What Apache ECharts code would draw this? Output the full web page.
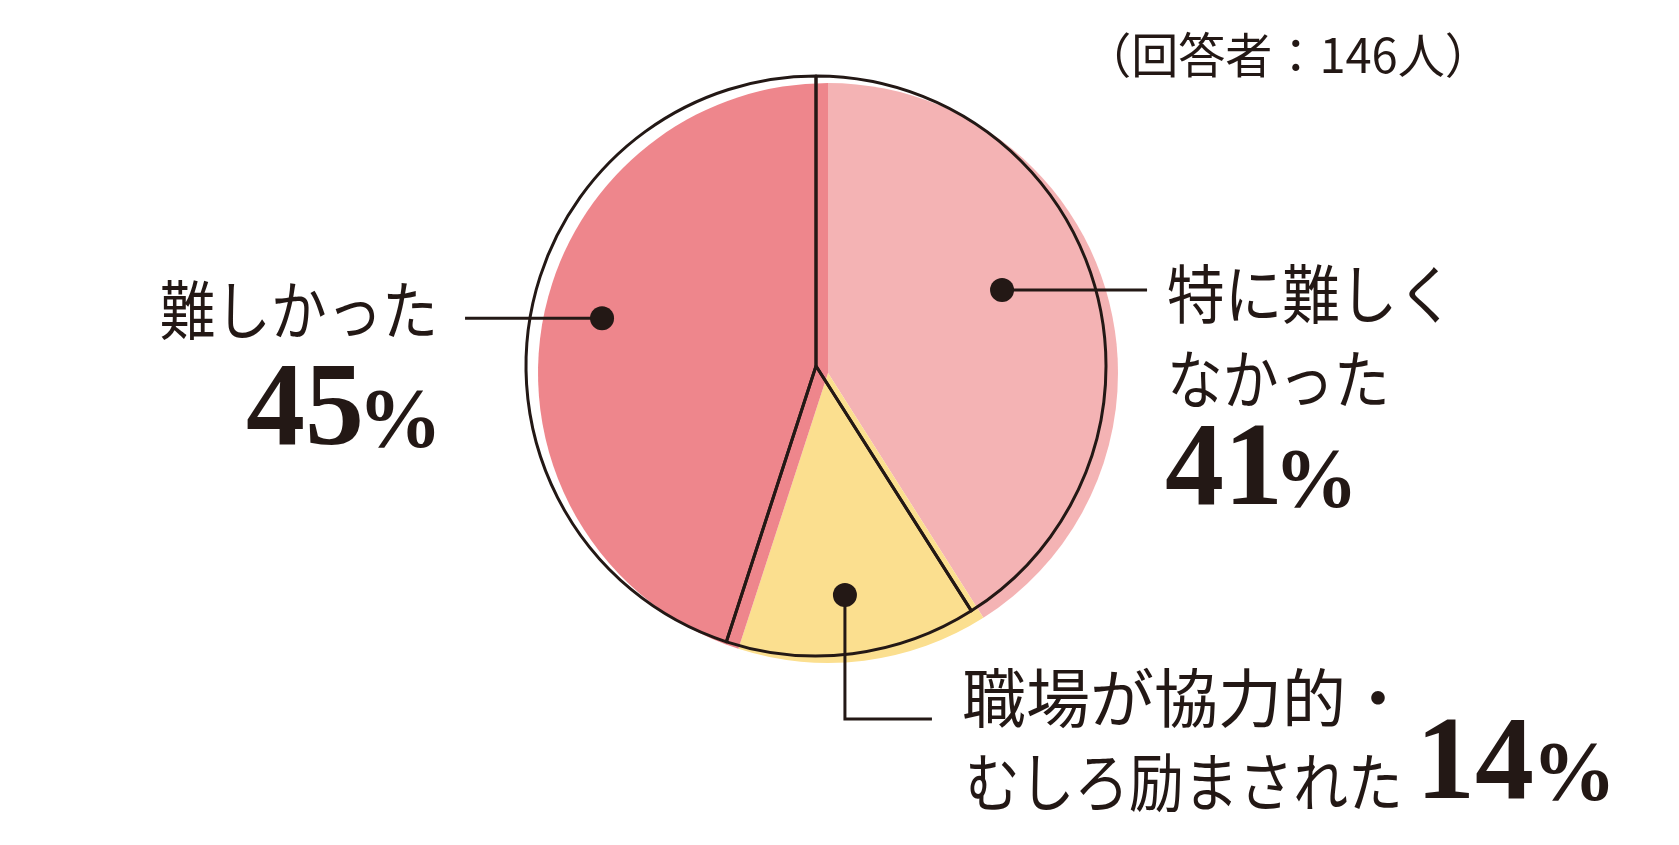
<!DOCTYPE html>
<html>
<head>
<meta charset="utf-8">
<title>職場の反応</title>
<script src="https://cdn.jsdelivr.net/npm/echarts@6/dist/echarts.min.js"></script>
<style>
  html, body { margin: 0; padding: 0; background: #fff; }
  #chart { width: 1679px; height: 845px; }
</style>
</head>
<body>
<div id="chart"></div>
<script>
// data
const categories = ['特に難しくなかった', '職場が協力的・むしろ励まされた', '難しかった']
const shares = [41, 14, 45]
const labelLines = [['特に難しく', 'なかった'], ['職場が協力的・', 'むしろ励まされた'], ['難しかった']]
const respondents = 146

// look
const INK = '#231815'
const sliceColors = ['#F4B3B4', '#FBDF8F', '#EE868C']
const JP_FONT = '"Noto Sans CJK JP", "Noto Sans", sans-serif'
const NUM_FONT = '"Liberation Serif", "DejaVu Serif", serif'

// layout
const OUTLINE_CENTER = [816, 366]
const FILL_CENTER = [828, 373]
const PIE_R = 290
// where the dot sits inside each slice (radius share, small angle shift in %)
const anchorRadius = [0.693, 0.796, 0.756]
const anchorTweak = [-1.67, 0, 1.0]

// offsets from the dot for leader line and texts; third value = horizontal squeeze
const labelLayout = [
  {
    leader: [[0, 0], [145, 0]],
    align: 'left',
    lines: [[165, 4, 0.9], [165, 89, 0.87]],
    num: [163, 183], pct: [272, 195]
  },
  {
    leader: [[0, 0], [0, 124], [87, 124]],
    align: 'left',
    lines: [[117, 103, 1.0], [120, 187, 0.855]],
    num: [571, 172], pct: [687, 183]
  },
  {
    leader: [[0, 0], [-137, 0]],
    align: 'right',
    lines: [[-164, -8, 0.87]],
    num: [-238, 95], pct: [-160, 107]
  }
]

function anchorData() {
  let cum = 0
  return shares.map((v, i) => {
    const mid = cum + v / 2 + anchorTweak[i]
    cum += v
    return [anchorRadius[i], mid]
  })
}

function textEl(text, x, y, align, font, scaleX) {
  return {
    type: 'text',
    x: x,
    y: y,
    scaleX: scaleX,
    style: {
      text: text,
      font: font,
      fill: INK,
      align: align,
      textAlign: align,
      verticalAlign: 'middle',
      textVerticalAlign: 'middle'
    }
  }
}

function renderLabel(params, api) {
  const i = params.dataIndex
  const p = api.coord([api.value(0), api.value(1)])
  const lay = labelLayout[i]
  const children = []
  children.push({
    type: 'polyline',
    shape: { points: lay.leader.map(d => [p[0] + d[0], p[1] + d[1]]) },
    style: { stroke: INK, lineWidth: 3, fill: null }
  })
  children.push({
    type: 'circle',
    shape: { cx: p[0], cy: p[1], r: 12 },
    style: { fill: INK }
  })
  lay.lines.forEach((d, k) => {
    children.push(textEl(labelLines[i][k], p[0] + d[0], p[1] + d[1], lay.align,
      '400 64px ' + JP_FONT, d[2]))
  })
  children.push(textEl(String(shares[i]), p[0] + lay.num[0], p[1] + lay.num[1], lay.align,
    'bold 118px ' + NUM_FONT, 1))
  children.push(textEl('%', p[0] + lay.pct[0], p[1] + lay.pct[1], lay.align,
    'bold 84px ' + NUM_FONT, 1))
  return { type: 'group', children: children }
}

const chart = echarts.init(document.getElementById('chart'))

chart.setOption({
  backgroundColor: '#ffffff',
  animation: false,
  polar: { center: OUTLINE_CENTER, radius: PIE_R },
  angleAxis: { type: 'value', min: 0, max: 100, startAngle: 90, clockwise: true, show: false },
  radiusAxis: { type: 'value', min: 0, max: 1, show: false },
  graphic: [
    textEl('（回答者：' + respondents + '人）', 1288, 55, 'center', '400 48px ' + JP_FONT, 0.98)
  ],
  series: [
    {
      // coloured fill, printed slightly off register
      type: 'pie',
      silent: true,
      center: FILL_CENTER,
      radius: PIE_R,
      startAngle: 90,
      clockwise: true,
      label: { show: false },
      labelLine: { show: false },
      emphasis: { disabled: true },
      data: shares.map((v, i) => ({
        name: categories[i],
        value: v,
        itemStyle: { color: sliceColors[i], borderWidth: 0 }
      }))
    },
    {
      // black key line
      type: 'pie',
      silent: true,
      z: 3,
      center: OUTLINE_CENTER,
      radius: PIE_R,
      startAngle: 90,
      clockwise: true,
      label: { show: false },
      labelLine: { show: false },
      emphasis: { disabled: true },
      data: shares.map((v, i) => ({
        name: categories[i],
        value: v,
        itemStyle: { color: 'rgba(0,0,0,0)', borderColor: INK, borderWidth: 3 }
      }))
    },
    {
      type: 'custom',
      coordinateSystem: 'polar',
      silent: true,
      z: 10,
      renderItem: renderLabel,
      data: anchorData()
    }
  ]
})
</script>
</body>
</html>
